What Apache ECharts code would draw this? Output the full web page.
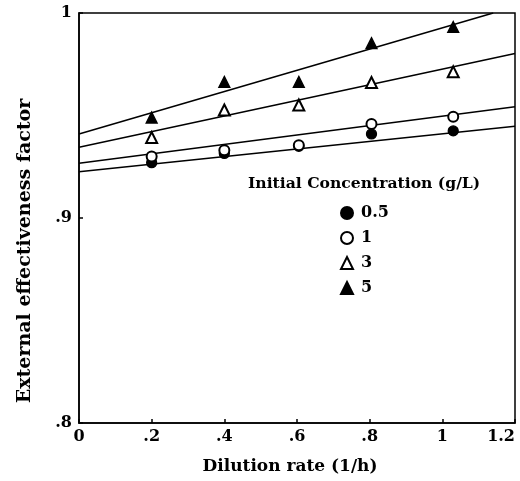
<!DOCTYPE html>
<html>
<head>
<meta charset="utf-8">
<script src="https://cdn.jsdelivr.net/npm/echarts@6/dist/echarts.min.js"></script>
<style>
html,body{margin:0;padding:0;background:#fff;}
#c{width:520px;height:481px;}
</style>
</head>
<body>
<div id="c"></div>
<script>
// Dilution rate (1/h) at which points were measured
const dilutionRates = [0.2, 0.4, 0.605, 0.805, 1.03];
// External effectiveness factor per initial concentration (g/L)
const conc05 = [0.927, 0.9315, 0.935, 0.941, 0.9425];
const conc1  = [0.930, 0.933, 0.9355, 0.9458, 0.9494];
const conc3  = [0.9393, 0.9527, 0.9551, 0.9661, 0.9713];
const conc5  = [0.949, 0.9664, 0.9664, 0.9853, 0.9932];
// Fitted lines: [x, y] endpoints
const fit05 = [[0, 0.9226], [1.2, 0.9447]];
const fit1  = [[0, 0.9267], [1.2, 0.9543]];
const fit3  = [[0, 0.9345], [1.2, 0.9802]];
const fit5  = [[0, 0.941], [1.14, 1.0]];
const seriesNames = ['0.5', '1', '3', '5'];
const xTickLabels = {0: '0', 0.2: '.2', 0.4: '.4', 0.6: '.6', 0.8: '.8', 1: '1', 1.2: '1.2'};
const yTickLabels = {0.8: '.8', 0.9: '.9', 1: '1'};

const FONT = '"DejaVu Serif", "Liberation Serif", serif';
const FS = 16;
const pairs = ys => ys.map((y, i) => [dilutionRates[i], y]);

const chart = echarts.init(document.getElementById('c'), null, {renderer: 'canvas'});
const scatterStyle = (name, symbol) => ({
  name: name, type: 'scatter', symbol: symbol, symbolSize: symbol.indexOf('ircle') >= 0 ? 10 : 11,
  itemStyle: {color: '#000', borderColor: '#000', borderWidth: 1.3, opacity: 1},
  emphasis: {disabled: true},
  z: 5
});
const lineStyle = data => ({
  type: 'line', data: data, symbol: 'none', silent: true, clip: true,
  lineStyle: {color: '#000', width: 1.5}, z: 3
});

chart.setOption({
  animation: false,
  backgroundColor: '#fff',
  grid: {left: 79, right: 5, top: 13, bottom: 58, containLabel: false, outerBoundsMode: 'none',
    show: true, borderColor: '#000', borderWidth: 1.5, backgroundColor: 'transparent'},
  title: {
    text: 'Initial Concentration (g/L)', left: 248, top: 176, padding: 0,
    textStyle: {fontFamily: FONT, fontWeight: 'bold', fontSize: 15.6, color: '#000'}
  },
  legend: {
    data: seriesNames, orient: 'vertical', left: 340, top: 205, padding: 0,
    itemWidth: 12, itemHeight: 12, itemGap: 9,
    textStyle: {fontFamily: FONT, fontWeight: 'bold', fontSize: FS, color: '#000', padding: [0, 0, 0, 3]}
  },
  xAxis: {
    type: 'value', min: 0, max: 1.2, interval: 0.2,
    name: 'Dilution rate (1/h)', nameLocation: 'middle', nameGap: 35,
    nameTextStyle: {fontFamily: FONT, fontWeight: 'bold', fontSize: 17, color: '#000', padding: [0, 14, 0, 0]},
    axisLine: {lineStyle: {color: '#000', width: 1.5}},
    axisTick: {inside: true, length: 4, lineStyle: {color: '#000', width: 1.5}},
    axisLabel: {margin: 6, fontFamily: FONT, fontWeight: 'bold', fontSize: FS, color: '#000',
      alignMaxLabel: 'right',
      formatter: v => xTickLabels[Math.round(v * 10) / 10] || String(v)},
    splitLine: {show: false}
  },
  yAxis: {
    type: 'value', min: 0.8, max: 1, interval: 0.1,
    axisLine: {show: true, lineStyle: {color: '#000', width: 1.5}},
    axisTick: {show: true, inside: true, length: 4, lineStyle: {color: '#000', width: 1.5}},
    axisLabel: {margin: 7, fontFamily: FONT, fontWeight: 'bold', fontSize: FS, color: '#000',
      formatter: v => yTickLabels[Math.round(v * 10) / 10] || String(v)},
    splitLine: {show: false}
  },
  graphic: [{
    type: 'text', x: 25, y: 251, rotation: Math.PI / 2,
    style: {text: 'External effectiveness factor', fontFamily: FONT, fontWeight: 'bold', fontSize: 19,
      fill: '#000', align: 'center', verticalAlign: 'middle'}
  }],
  series: [
    Object.assign(scatterStyle('0.5', 'circle'), {data: pairs(conc05)}),
    Object.assign(scatterStyle('1', 'emptyCircle'), {data: pairs(conc1)}),
    Object.assign(scatterStyle('3', 'emptyTriangle'), {data: pairs(conc3)}),
    Object.assign(scatterStyle('5', 'triangle'), {data: pairs(conc5)}),
    lineStyle(fit05), lineStyle(fit1), lineStyle(fit3), lineStyle(fit5)
  ]
});
</script>
</body>
</html>
